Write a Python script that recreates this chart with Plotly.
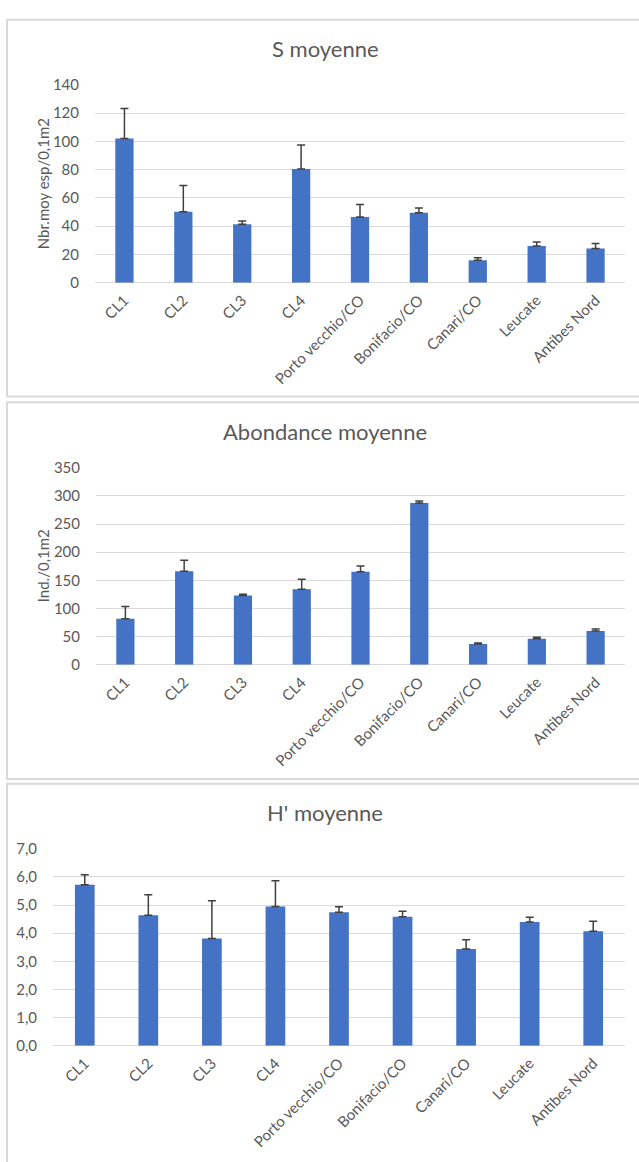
import plotly.graph_objects as go

# Sites and per-site statistics (means and upper standard deviation)
sites = ["CL1", "CL2", "CL3", "CL4", "Porto vecchio/CO", "Bonifacio/CO",
         "Canari/CO", "Leucate", "Antibes Nord"]

s_mean = [102.0, 50.2, 41.4, 80.5, 46.5, 49.5, 15.8, 26.0, 24.2]
s_err = [21.3, 18.6, 2.3, 17.0, 8.8, 3.3, 1.9, 2.8, 3.5]

ab_mean = [81.7, 166.3, 123.1, 134.2, 165.1, 287.6, 36.8, 46.1, 60.1]
ab_err = [21.6, 19.2, 2.3, 17.5, 10.5, 3.5, 1.7, 2.9, 3.5]

h_mean = [5.72, 4.64, 3.81, 4.95, 4.74, 4.58, 3.44, 4.40, 4.07]
h_err = [0.36, 0.73, 1.34, 0.91, 0.20, 0.20, 0.33, 0.17, 0.35]

titles = ["S moyenne", "Abondance moyenne", "H' moyenne"]
y_titles = ["Nbr.moy esp/0,1m2", "Ind./0,1m2", ""]
y_ranges = [[0, 140], [0, 350], [0, 7]]
y_dticks = [20, 50, 1]
y_formats = ["d", "d", ".1f"]

W, H = 639, 1162
BAR = "#4472C4"
GRID = "#d9d9d9"
TXT = "#595959"
FONT = "Lato, Carlito, Calibri, sans-serif"


def px_x(x):
    return x / W


def px_y(y):
    return 1 - y / H


# Pixel layout of each chart panel: frame box, plot area, title and axis-title anchors
panels = [
    dict(frame=(7, 10, 660, 392.5), plot=(95, 625, 76, 277), title_y=39, ytitle=(43, 177)),
    dict(frame=(7, 398.5, 660, 781), plot=(96, 625, 465, 665), title_y=428, ytitle=(43, 565)),
    dict(frame=(7, 786, 660, 1180), plot=(53, 625, 852, 1052), title_y=815, ytitle=None),
]

series = [(s_mean, s_err), (ab_mean, ab_err), (h_mean, h_err)]

fig = go.Figure()
shapes = []
annotations = []

for i, (p, (mean, err)) in enumerate(zip(panels, series)):
    n = "" if i == 0 else str(i + 1)
    fig.add_trace(go.Bar(
        x=sites, y=mean,
        marker=dict(color=BAR, line=dict(width=0)),
        error_y=dict(type="data", array=err, arrayminus=[0] * len(err),
                     symmetric=False, color="#404040", thickness=1.5, width=4),
        xaxis="x" + n, yaxis="y" + n,
        showlegend=False,
    ))
    x0, x1, yt, yb = p["plot"]
    fig.layout["xaxis" + n] = dict(
        domain=[px_x(x0), px_x(x1)], anchor="y" + n,
        tickangle=-45, tickfont=dict(size=15, color=TXT, family=FONT),
        showgrid=False, showline=False, zeroline=False,
        ticks="outside", ticklen=2, tickcolor="rgba(0,0,0,0)",
        fixedrange=True,
    )
    fig.layout["yaxis" + n] = dict(
        domain=[px_y(yb), px_y(yt)], anchor="x" + n,
        range=y_ranges[i], dtick=y_dticks[i], tick0=0, tickformat=y_formats[i],
        showgrid=True, gridcolor=GRID, gridwidth=1,
        zeroline=True, zerolinecolor=GRID, zerolinewidth=1,
        showline=False,
        tickfont=dict(size=15, color=TXT, family=FONT),
        ticks="outside", ticklen=12, tickcolor="rgba(0,0,0,0)",
        fixedrange=True,
    )
    fx0, fy0, fx1, fy1 = p["frame"]
    shapes.append(dict(type="rect", xref="paper", yref="paper",
                       x0=px_x(fx0), x1=px_x(fx1), y0=px_y(fy1), y1=px_y(fy0),
                       line=dict(color=GRID, width=2), fillcolor="rgba(0,0,0,0)",
                       layer="below"))
    annotations.append(dict(text=titles[i], xref="paper", yref="paper",
                            x=px_x(325), y=px_y(p["title_y"]),
                            xanchor="center", yanchor="middle", showarrow=False,
                            font=dict(size=22, color=TXT, family=FONT)))
    if p["ytitle"]:
        ax, ay = p["ytitle"]
        annotations.append(dict(text=y_titles[i], xref="paper", yref="paper",
                                x=px_x(ax), y=px_y(ay), textangle=-90,
                                xanchor="center", yanchor="middle", showarrow=False,
                                font=dict(size=15, color=TXT, family=FONT)))

fig.update_layout(
    width=W, height=H,
    margin=dict(l=0, r=0, t=0, b=0),
    paper_bgcolor="white", plot_bgcolor="white",
    bargap=0.69,
    separators=", ",
    shapes=shapes, annotations=annotations,
    font=dict(family=FONT, color=TXT),
)

# Strip the default page margin so the figure sits flush in the window
fig.write_html(
    "out.html",
    config={"displayModeBar": False},
    post_script="document.body.style.margin='0';document.body.style.padding='0';"
                "document.body.style.overflow='hidden';",
)
